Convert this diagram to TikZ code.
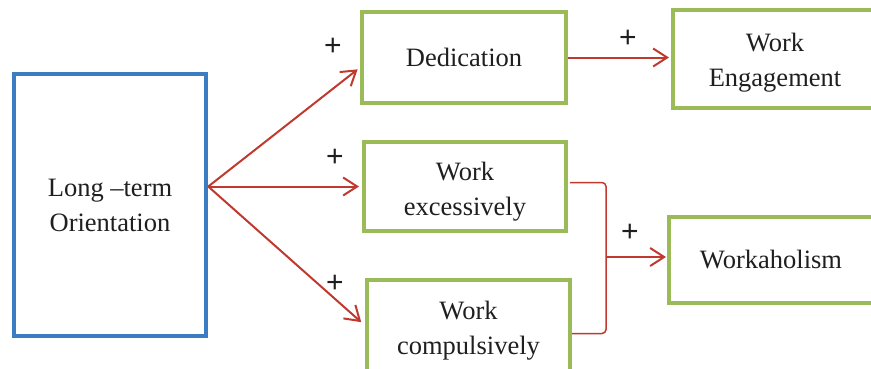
\documentclass[tikz,border=0pt]{standalone}
\usepackage{fontspec}
\setmainfont{Liberation Serif}
\newfontfamily\plusfont{Liberation Sans}
\usetikzlibrary{arrows.meta, positioning, calc}
\definecolor{boxGreen}{HTML}{9BBB59}
\definecolor{boxBlue}{HTML}{3B7CC2}
\definecolor{linkRed}{HTML}{C0392F}
\colorlet{inkDark}{black!88}

\begin{document}
\begin{tikzpicture}[x=1pt,y=-1pt,
    box/.style={draw=boxGreen, line width=4pt, rectangle, align=center,
                font=\fontsize{26.5}{35}\selectfont, text=inkDark,
                minimum width=#1, inner sep=0pt},
    box/.default=204pt,
    link/.style={draw=linkRed, line width=2pt,
                 -{Straight Barb[length=14pt,width=18pt]}},
    brk/.style={draw=linkRed, line width=1.5pt, rounded corners=4pt},
    plus/.style={font=\plusfont\fontsize{30}{30}\selectfont, text=inkDark}]
  \path[use as bounding box] (0,0) rectangle (871,368);
  \clip (0,0) rectangle (871,368);
  % --- left: source ---
  \node[box=192pt, draw=boxBlue, line width=4.5pt, minimum height=262pt]
    (lto) at (110,205) {Long --term\\Orientation};
  % --- middle column ---
  \node[box, minimum height=91pt] (ded) at (464,57.5) {Dedication};
  \node[box=202pt, minimum height=89pt, text height=64pt] (exc) at (465,186.5) {Work\\excessively};
  \node[box=203pt, minimum height=91pt, text height=63pt] (comp) at (468.5,325.5) {Work\\compulsively};
  % --- right column ---
  \node[box, minimum height=98pt, text height=60pt] (eng) at (775,59) {Work\\Engagement};
  \node[box, minimum height=86pt] (wah) at (771,260) {Workaholism};
  % --- connectors ---
  \coordinate (src) at (lto.east |- exc.west);
  \draw[link, shorten >=3pt] (src) -- ($(ded.west)+(0,10)$);
  \draw[link, shorten >=3pt] (src) -- (exc.west);
  \draw[link, shorten >=5pt] (src) -- (comp.west);
  \draw[link, shorten >=2pt] (ded.east) -- (ded.east -| eng.west);
  \coordinate (jn) at (606,257);
  \draw[brk] ($(exc.east)+(2,-4)$) -| (jn) |- ($(comp.east)+(0,8)$);
  \draw[link, shorten >=1pt] (jn) -- (jn -| wah.west);
  % --- signs ---
  \node[plus] (p1) at (333,47) {+};
  \node[plus] (p2) at (335,158) {+};
  \node[plus] (p3) at (335,284) {+};
  \node[plus] (p4) at (628,39) {+};
  \node[plus] (p5) at (630,233) {+};
\end{tikzpicture}
\end{document}
